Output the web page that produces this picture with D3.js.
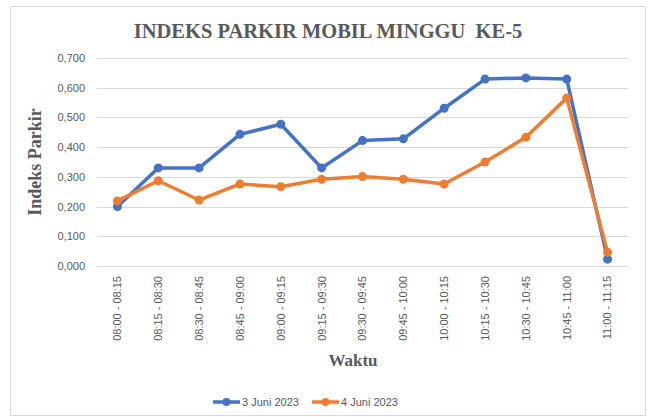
<!DOCTYPE html>
<html>
<head>
<meta charset="utf-8">
<script src="https://cdn.jsdelivr.net/npm/d3@7"></script>
<style>
  body { margin: 0; background: #fff; }
  svg { display: block; }
</style>
</head>
<body>
<div id="chart"></div>
<script>
// Chart data
const categories = ['08:00 - 08:15', '08:15 - 08:30', '08:30 - 08:45', '08:45 - 09:00',
  '09:00 - 09:15', '09:15 - 09:30', '09:30 - 09:45', '09:45 - 10:00', '10:00 - 10:15',
  '10:15 - 10:30', '10:30 - 10:45', '10:45 - 11:00', '11:00 - 11:15'];
const juni3 = [0.200, 0.330, 0.330, 0.443, 0.477, 0.330, 0.422, 0.428, 0.531, 0.629, 0.633, 0.629, 0.023];
const juni4 = [0.219, 0.287, 0.222, 0.276, 0.267, 0.292, 0.301, 0.292, 0.276, 0.350, 0.433, 0.565, 0.046];
const yTicks = [0, 0.1, 0.2, 0.3, 0.4, 0.5, 0.6, 0.7];
const seriesNames = ['3 Juni 2023', '4 Juni 2023'];
const colors = ['#4472C4', '#ED7D31'];

const width = 648, height = 417;
const plot = { left: 97, right: 628, top: 58, bottom: 266 };

const svg = d3.select('#chart').append('svg')
  .attr('width', width)
  .attr('height', height);

// Chart frame
svg.append('rect')
  .attr('x', 10.5).attr('y', 6.5)
  .attr('width', 635).attr('height', 409)
  .attr('fill', '#fff')
  .attr('stroke', '#d9d9d9');

const x = d3.scaleBand()
  .domain(categories)
  .range([plot.left, plot.right]);

const y = d3.scaleLinear()
  .domain([0, 0.7])
  .range([plot.bottom, plot.top]);

const fmt = v => d3.format('.3f')(v).replace('.', ',');

// Gridlines
svg.append('g')
  .selectAll('line')
  .data(yTicks)
  .enter()
  .append('line')
  .attr('x1', plot.left).attr('x2', plot.right)
  .attr('y1', d => Math.round(y(d)) + 0.5)
  .attr('y2', d => Math.round(y(d)) + 0.5)
  .attr('stroke', '#d9d9d9')
  .attr('stroke-width', 1);

// Y axis
const yAxis = svg.append('g')
  .attr('transform', `translate(${plot.left},0)`)
  .call(d3.axisLeft(y).tickValues(yTicks).tickFormat(fmt).tickSize(0).tickPadding(12));
yAxis.select('.domain').remove();
yAxis.selectAll('text')
  .attr('fill', '#595959')
  .attr('font-family', 'Liberation Sans, Arial, sans-serif')
  .attr('font-size', '11px');

// X axis
const xAxis = svg.append('g')
  .attr('transform', `translate(0,${plot.bottom})`)
  .call(d3.axisBottom(x).tickSize(0).tickPadding(0));
xAxis.select('.domain').remove();
xAxis.selectAll('text')
  .attr('fill', '#595959')
  .attr('font-family', 'Liberation Sans, Arial, sans-serif')
  .attr('font-size', '11px')
  .attr('text-anchor', 'end')
  .attr('dy', '0.35em')
  .attr('transform', 'translate(0,10) rotate(-90)')
  .attr('x', 0)
  .attr('y', 0);

// Lines and markers
const cx = d => x(d) + x.bandwidth() / 2;
const allSeries = [juni3, juni4];
const line = d3.line()
  .x((d, i) => cx(categories[i]))
  .y(d => y(d));

allSeries.forEach((vals, s) => {
  svg.append('path')
    .datum(vals)
    .attr('fill', 'none')
    .attr('stroke', colors[s])
    .attr('stroke-width', 3.5)
    .attr('stroke-linejoin', 'round')
    .attr('d', line);
  svg.append('g')
    .selectAll('circle')
    .data(vals)
    .enter()
    .append('circle')
    .attr('cx', (d, i) => cx(categories[i]))
    .attr('cy', d => y(d))
    .attr('r', 4.5)
    .attr('fill', colors[s]);
});

// Title
svg.append('text')
  .attr('x', 328).attr('y', 38)
  .attr('text-anchor', 'middle')
  .attr('xml:space', 'preserve')
  .style('white-space', 'pre')
  .attr('font-family', 'Liberation Serif, Times New Roman, serif')
  .attr('font-weight', 'bold')
  .attr('font-size', '20.5px')
  .attr('fill', '#595959')
  .text('INDEKS PARKIR MOBIL MINGGU  KE-5');

// Axis titles
svg.append('text')
  .attr('transform', `translate(41,${(plot.top + plot.bottom) / 2}) rotate(-90)`)
  .attr('text-anchor', 'middle')
  .attr('font-family', 'Liberation Serif, Times New Roman, serif')
  .attr('font-weight', 'bold')
  .attr('font-size', '18px')
  .attr('fill', '#595959')
  .text('Indeks Parkir');

svg.append('text')
  .attr('x', 353).attr('y', 366)
  .attr('text-anchor', 'middle')
  .attr('font-family', 'Liberation Serif, Times New Roman, serif')
  .attr('font-weight', 'bold')
  .attr('font-size', '17px')
  .attr('fill', '#595959')
  .text('Waktu');

// Legend
const legend = svg.append('g')
  .attr('transform', 'translate(0,402)');
const legendX = [213, 312];
seriesNames.forEach((name, s) => {
  const g = legend.append('g').attr('transform', `translate(${legendX[s]},0)`);
  g.append('line')
    .attr('x1', 0).attr('x2', 27)
    .attr('stroke', colors[s])
    .attr('stroke-width', 3.5);
  g.append('circle')
    .attr('cx', 13.5).attr('r', 4)
    .attr('fill', colors[s]);
  g.append('text')
    .attr('x', 29).attr('dy', '0.35em')
    .attr('font-family', 'Liberation Sans, Arial, sans-serif')
    .attr('font-size', '11px')
    .attr('fill', '#595959')
    .text(name);
});
</script>
</body>
</html>
